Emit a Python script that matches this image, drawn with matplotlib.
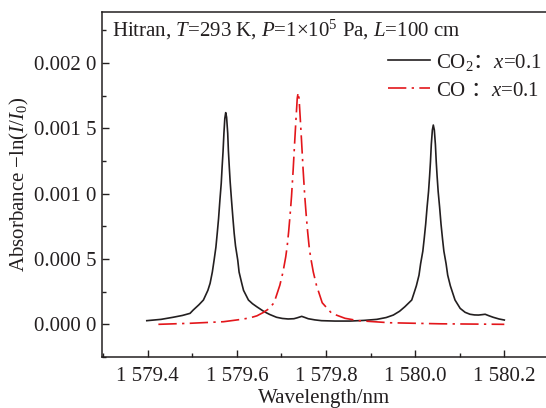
import matplotlib
matplotlib.use("Agg")
import matplotlib.pyplot as plt
from matplotlib.ticker import FixedLocator, FixedFormatter, MultipleLocator

plt.rcParams['font.family'] = ['Liberation Serif', 'Noto Sans CJK SC', 'DejaVu Sans']
plt.rcParams['mathtext.fontset'] = 'custom'
plt.rcParams['mathtext.rm'] = 'Liberation Serif'
plt.rcParams['mathtext.it'] = 'Liberation Serif:italic'
plt.rcParams['mathtext.bf'] = 'Liberation Serif:bold'
plt.rcParams['mathtext.sf'] = 'Noto Sans CJK SC'

# ---- data ----
co2_wl = [1579.398, 1579.430, 1579.457, 1579.478, 1579.495, 1579.502, 1579.515,
          1579.525, 1579.535, 1579.540, 1579.545, 1579.549, 1579.553, 1579.556,
          1579.559, 1579.562, 1579.565, 1579.567, 1579.569, 1579.571, 1579.573,
          1579.575, 1579.577, 1579.5795, 1579.581, 1579.583, 1579.585, 1579.588,
          1579.591, 1579.594, 1579.597, 1579.602, 1579.605, 1579.611, 1579.615,
          1579.626, 1579.635, 1579.6445, 1579.652, 1579.659, 1579.667, 1579.674,
          1579.689, 1579.702, 1579.715, 1579.728, 1579.7355, 1579.7455, 1579.753,
          1579.760, 1579.775, 1579.790, 1579.820, 1579.854, 1579.885, 1579.914,
          1579.935, 1579.951, 1579.965, 1579.977, 1579.9923, 1579.998, 1580.0027,
          1580.0086, 1580.0122, 1580.0172, 1580.0203, 1580.0236, 1580.0267,
          1580.0300, 1580.0324, 1580.0343, 1580.0362, 1580.0386, 1580.0407,
          1580.0430, 1580.0454, 1580.0473, 1580.0492, 1580.0516, 1580.0549,
          1580.0580, 1580.0613, 1580.0644, 1580.0694, 1580.0730, 1580.0789,
          1580.0837, 1580.0894, 1580.101, 1580.112, 1580.123, 1580.133, 1580.142,
          1580.150, 1580.157, 1580.166, 1580.175, 1580.188, 1580.200]
co2_abs = [0.000028, 0.000038, 0.000054, 0.000068, 0.000084, 0.000109, 0.000150,
           0.000186, 0.000260, 0.000314, 0.000400, 0.000492, 0.000590, 0.000697,
           0.000810, 0.000951, 0.001080, 0.001206, 0.001320, 0.001462, 0.001575,
           0.001620, 0.001585, 0.001462, 0.001330, 0.001206, 0.001090, 0.000951,
           0.000820, 0.000697, 0.000600, 0.000492, 0.000400, 0.000314, 0.000260,
           0.000186, 0.000158, 0.000135, 0.000118, 0.000102, 0.000087, 0.000075,
           0.000054, 0.000045, 0.000041, 0.000043, 0.000050, 0.000061, 0.000052,
           0.000043, 0.000034, 0.000028, 0.000025, 0.000025, 0.000030, 0.000038,
           0.000052, 0.000071, 0.000100, 0.000135, 0.000186, 0.000245, 0.000295,
           0.000376, 0.000463, 0.000560, 0.000656, 0.000767, 0.000895,
           0.001016, 0.001135, 0.001242, 0.001376, 0.001487, 0.001525,
           0.001487, 0.001376, 0.001242, 0.001135, 0.001016, 0.000895,
           0.000767, 0.000656, 0.000560, 0.000463, 0.000376, 0.000295,
           0.000245, 0.000186, 0.000122, 0.000092, 0.000077, 0.000072, 0.000071,
           0.000074, 0.000077, 0.000065, 0.000054, 0.000041, 0.000033]

co_wl = [1579.424, 1579.495, 1579.570, 1579.610, 1579.630, 1579.645, 1579.659,
         1579.671, 1579.6835, 1579.6965, 1579.7035, 1579.7097, 1579.713,
         1579.7162, 1579.7195, 1579.7226, 1579.7263, 1579.730, 1579.733,
         1579.7355, 1579.7375, 1579.7395, 1579.742, 1579.745, 1579.7487,
         1579.7524, 1579.7555, 1579.7588, 1579.762, 1579.7653, 1579.7715,
         1579.7785, 1579.7915, 1579.8128, 1579.8427, 1579.8725, 1579.9436,
         1580.0558, 1580.200]
co_abs = [0.000000, 0.000008, 0.000020, 0.000038, 0.000050, 0.000065, 0.000090,
          0.000117, 0.000165, 0.000300, 0.000400, 0.000517, 0.000600,
          0.000709, 0.000840, 0.000977, 0.001181, 0.001411, 0.001590,
          0.001730, 0.001773, 0.001730, 0.001590, 0.001411, 0.001181,
          0.000977, 0.000840, 0.000709, 0.000600, 0.000517, 0.000400,
          0.000300, 0.000165, 0.000084, 0.000046, 0.000028, 0.000012,
          0.000004, 0.000000]

xtick_vals = [1579.4, 1579.6, 1579.8, 1580.0, 1580.2]
xtick_labels = ["1 579.4", "1 579.6", "1 579.8", "1 580.0", "1 580.2"]
ytick_vals = [0.0, 0.0005, 0.0010, 0.0015, 0.0020]
ytick_labels = ["0.000 0", "0.000 5", "0.001 0", "0.001 5", "0.002 0"]

label_co2 = r"CO$_2\mathsf{：}x$=0.1"
label_co = r"CO $\mathsf{：}x$=0.1"
title_text = r"Hitran, $T$=293 K, $P$=1×10$^5$ Pa, $L$=100 cm"

# ---- figure ----
fs = 15
ink = '#231f20'
fig = plt.figure(figsize=(5.46, 4.08), dpi=100)
ax = fig.add_axes([102/546, 1 - 357/408, 444/546, 345/408])

ax.plot(co2_wl, co2_abs, color=ink, lw=1.2, label=label_co2)
ax.plot(co_wl, co_abs, color='#e3161b', lw=1.2,
        linestyle=(0, (11, 3.2, 1.4, 3.2)), label=label_co)

ax.set_xlim(1579.2975, 1580.2935)
ax.set_ylim(-0.00025, 0.00239)

ax.xaxis.set_major_locator(FixedLocator(xtick_vals))
ax.xaxis.set_major_formatter(FixedFormatter(xtick_labels))
ax.xaxis.set_minor_locator(MultipleLocator(0.1))
ax.yaxis.set_major_locator(FixedLocator(ytick_vals))
ax.yaxis.set_major_formatter(FixedFormatter(ytick_labels))
ax.yaxis.set_minor_locator(MultipleLocator(0.00025))

ax.tick_params(which='both', direction='in', colors=ink, labelsize=fs,
               top=False, right=False)
ax.tick_params(which='major', length=5, width=1.0)
ax.tick_params(which='minor', length=2.8, width=1.0)
ax.tick_params(axis='x', which='major', pad=7)
ax.tick_params(axis='y', which='major', pad=4)
for s in ['left', 'top', 'bottom']:
    ax.spines[s].set_color(ink)
    ax.spines[s].set_linewidth(1.1)
ax.spines['right'].set_visible(False)

ax.set_xlabel("Wavelength/nm", fontsize=fs, color=ink, labelpad=2)
ax.set_ylabel(r"Absorbance −ln($I$/$I_0$)", fontsize=fs, color=ink, labelpad=2)

ax.text(10/444, (357-36)/345, title_text, transform=ax.transAxes,
        fontsize=fs, color=ink, ha='left', va='baseline')

leg = ax.legend(loc='upper right', bbox_to_anchor=(0.99, 0.885), frameon=False,
                fontsize=fs, handlelength=2.0, handletextpad=0.3,
                labelspacing=0.4, borderpad=0, borderaxespad=0)
for t in leg.get_texts():
    t.set_color(ink)

fig.savefig("out.png", dpi=100)
